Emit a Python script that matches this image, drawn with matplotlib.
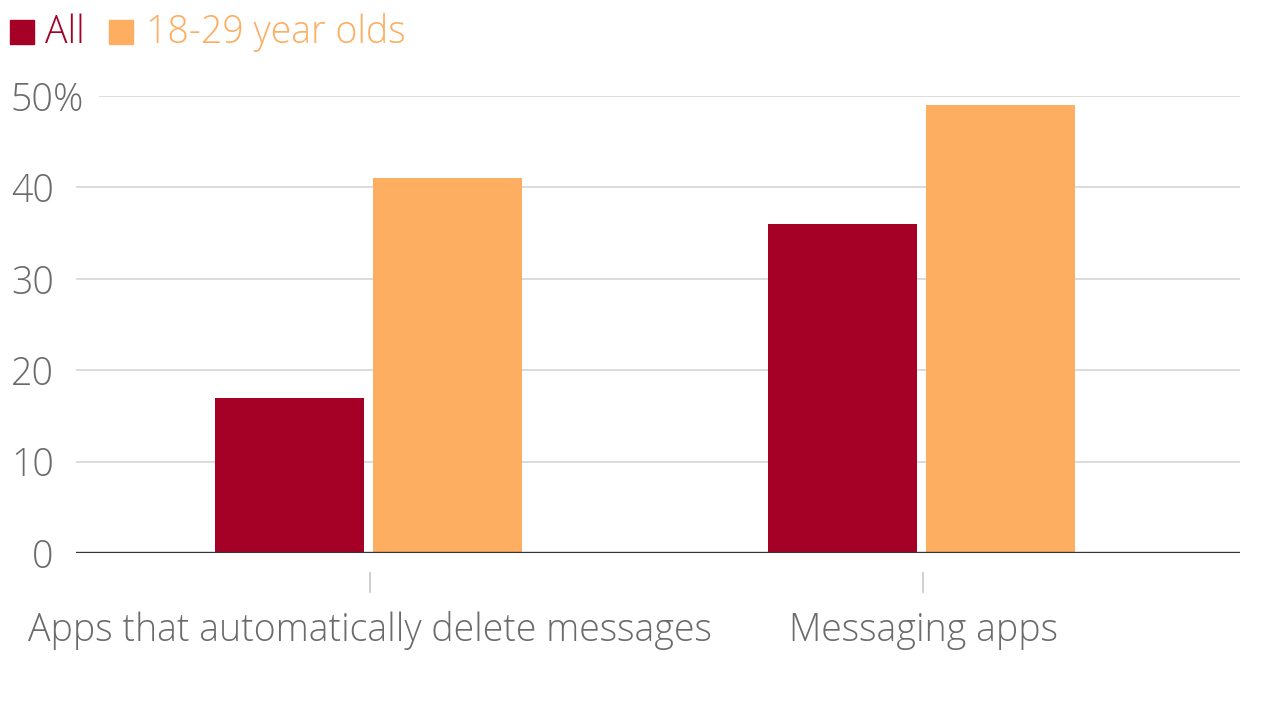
import matplotlib.pyplot as plt
import numpy as np

# Data
categories = ["Apps that automatically delete messages", "Messaging apps"]
series_names = ["All", "18-29 year olds"]
all_values = [17, 36]
young_values = [41, 49]
y_ticks = [0, 10, 20, 30, 40, 50]
y_tick_labels = ["0", "10", "20", "30", "40", "50"]

colors = ["#A50026", "#FDAE61"]
text_gray = "#6b6b6b"
fs = 27

plt.rcParams['font.family'] = ['Open Sans', 'DejaVu Sans']
plt.rcParams['font.weight'] = 'light'

fig = plt.figure(figsize=(12.8, 7.2), dpi=100)
ax = fig.add_axes([76 / 1280, 1 - 553 / 720, (1240 - 76) / 1280, (553 - 96) / 720])

x = np.arange(len(categories))
width = 0.269
ax.bar(x - 0.1456, all_values, width, color=colors[0], zorder=3)
ax.bar(x + 0.140, young_values, width, color=colors[1], zorder=3)

ax.set_xlim(-0.532, 1.573)
ax.set_ylim(0, 50)

# gridlines
for t in y_ticks[1:]:
    xmin = 24 / 1164 if t == 50 else 0
    ax.axhline(t, xmin=xmin, color="#d9d9d9", lw=1.3, zorder=1)
ax.axhline(0, color="#333333", lw=1.7, zorder=4)

for s in ax.spines.values():
    s.set_visible(False)

ax.set_yticks(y_ticks)
ax.set_yticklabels(y_tick_labels)
ax.tick_params(axis='y', length=0, pad=16, labelsize=fs, labelcolor=text_gray)
ax.set_xticks([])
# percent sign after the top label
ax.text(-23 / 1164, 50, "%", transform=ax.get_yaxis_transform(), ha='left',
        va='center_baseline', fontsize=fs, color=text_gray)

# category tick marks and labels
trans = ax.get_xaxis_transform()
for i, cat in enumerate(categories):
    ax.plot([i, i], [-20 / 457, -39 / 457], color="#cccccc", lw=1.3,
            transform=trans, clip_on=False)
    ax.text(i, -78 / 457, cat, transform=trans, ha='center', va='center',
            fontsize=fs, color=text_gray)

# legend
fig.patches.append(plt.Rectangle((10 / 1280, 1 - 44 / 720), 24 / 1280, 24 / 720,
                                 transform=fig.transFigure, color=colors[0]))
fig.text(45 / 1280, 1 - 33 / 720, series_names[0], fontsize=fs, color=colors[0], va='center')
fig.patches.append(plt.Rectangle((109 / 1280, 1 - 44 / 720), 24 / 1280, 24 / 720,
                                 transform=fig.transFigure, color=colors[1]))
fig.text(146 / 1280, 1 - 33 / 720, series_names[1], fontsize=fs, color=colors[1], va='center')

fig.savefig("out.png", dpi=100)
